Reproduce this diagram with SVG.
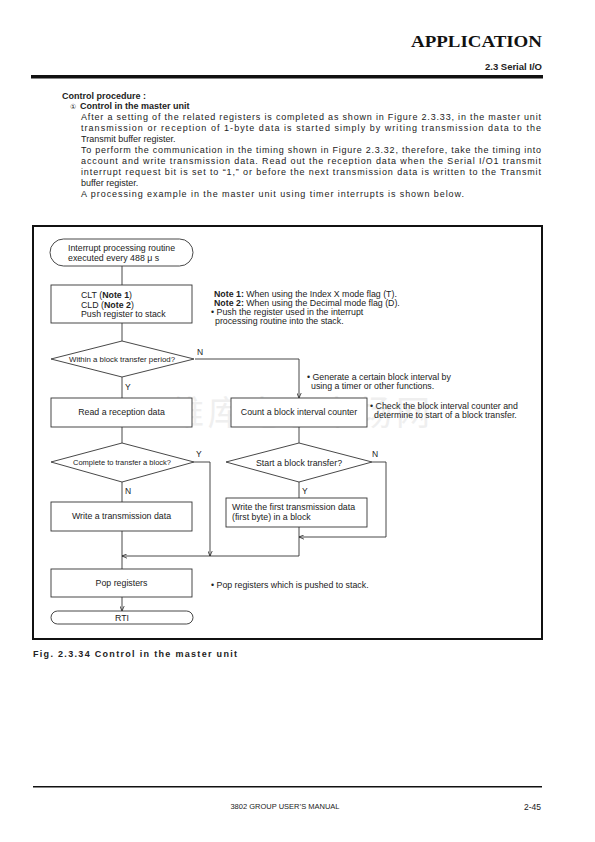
<svg xmlns="http://www.w3.org/2000/svg" width="595" height="842" viewBox="0 0 595 842">
<defs>
<marker id="arr" viewBox="0 0 8 8" refX="8" refY="4" markerWidth="5" markerHeight="5" orient="auto" markerUnits="userSpaceOnUse">
<path d="M0,0.5 L8,4 L0,7.5" fill="none" stroke="#222" stroke-width="1.2"/>
</marker>
<style>
text{font-family:"Liberation Sans",Arial,sans-serif;fill:#222}
.body{font-size:9px}
.b{font-weight:bold}
.fc{font-size:8.8px}
.dia{font-size:7.4px}
.note{font-size:8.8px}
.lbl{font-size:8.5px}
.shape{fill:#fff;stroke:#333;stroke-width:0.9}
.con{fill:none;stroke:#333;stroke-width:0.9}
</style>
</defs>
<rect width="595" height="842" fill="#fff"/>

<!-- header -->
<text x="542" y="47" text-anchor="end" style="font-family:'Liberation Serif','Times New Roman',serif;font-size:17.5px;font-weight:bold;fill:#111" textLength="131" lengthAdjust="spacingAndGlyphs">APPLICATION</text>
<text x="542" y="70" text-anchor="end" class="b" style="font-size:9.5px">2.3 Serial I/O</text>
<rect x="31" y="75" width="512" height="3.5" fill="#111"/>

<!-- body text -->
<text x="62" y="99" class="body b">Control procedure :</text>
<text x="70" y="109" class="body"><tspan style="font-family:'DejaVu Sans',sans-serif;font-size:7px">①</tspan><tspan x="80" class="b">Control in the master unit</tspan></text>
<text x="81" y="120" class="body" textLength="460">After a setting of the related registers is completed as shown in Figure 2.3.33, in the master unit</text>
<text x="81" y="131" class="body" textLength="460">transmission or reception of 1-byte data is started simply by writing transmission data to the</text>
<text x="81" y="142" class="body">Transmit buffer register.</text>
<text x="81" y="153" class="body" textLength="460">To perform the communication in the timing shown in Figure 2.3.32, therefore, take the timing into</text>
<text x="81" y="164" class="body" textLength="460">account and write transmission data. Read out the reception data when the Serial I/O1 transmit</text>
<text x="81" y="175" class="body" textLength="460">interrupt request bit is set to “1,” or before the next transmission data is written to the Transmit</text>
<text x="81" y="186" class="body">buffer register.</text>
<text x="81" y="197" class="body" textLength="383">A processing example in the master unit using timer interrupts is shown below.</text>

<!-- frame -->
<rect x="33" y="226" width="509" height="413" fill="none" stroke="#111" stroke-width="2"/>

<!-- watermark -->
<text x="300" y="425" text-anchor="middle" style="font-family:'Noto Sans CJK SC',sans-serif;font-size:34px;fill:#efefef" textLength="260">维库电子市场网</text>

<!-- connectors -->
<g id="connectors">
<path class="con" d="M122,266 V285"/>
<path class="con" d="M122,323 V341"/>
<path class="con" d="M122,377 V398"/>
<path class="con" d="M122,427 V443"/>
<path class="con" d="M122,482 V502"/>
<path class="con" d="M122,531 V569"/>
<path class="con" d="M122,597 V611" marker-end="url(#arr)"/>
<path class="con" d="M195,359 H299 V398" marker-end="url(#arr)"/>
<path class="con" d="M299,427 V443"/>
<path class="con" d="M299,482 V498"/>
<path class="con" d="M372,462 H386 V537 H299" marker-end="url(#arr)"/>
<path class="con" d="M299,527 V556 H122" marker-end="url(#arr)"/>
<path class="con" d="M194,462 H210 V556" marker-end="url(#arr)"/>
<text x="197" y="355" class="lbl">N</text>
<text x="125" y="390" class="lbl">Y</text>
<text x="196" y="457" class="lbl">Y</text>
<text x="125" y="494" class="lbl">N</text>
<text x="372" y="457" class="lbl">N</text>
<text x="302" y="494" class="lbl">Y</text>
</g>

<!-- nodes -->
<g id="start">
<rect class="shape" x="50" y="239" width="143" height="27" rx="13.5"/>
<text x="68" y="251" class="fc">Interrupt processing routine</text>
<text x="68" y="261" class="fc">executed every 488 μ s</text>
</g>
<g id="push">
<rect class="shape" x="51" y="285" width="141" height="38"/>
<text x="81" y="298" class="fc">CLT (<tspan class="b">Note 1</tspan>)</text>
<text x="81" y="307.5" class="fc">CLD (<tspan class="b">Note 2</tspan>)</text>
<text x="81" y="317" class="fc">Push register to stack</text>
</g>
<g id="dec-period">
<polygon class="shape" points="51,359 122,341 194,359 122,377"/>
<text x="122" y="362" text-anchor="middle" class="dia" textLength="106" lengthAdjust="spacingAndGlyphs">Within a block transfer period?</text>
</g>
<g id="read">
<rect class="shape" x="51" y="398" width="141" height="29"/>
<text x="121.5" y="415" text-anchor="middle" class="fc">Read a reception data</text>
</g>
<g id="dec-complete">
<polygon class="shape" points="51,462 122,443 194,462 122,482"/>
<text x="122" y="465" text-anchor="middle" class="dia" textLength="98" lengthAdjust="spacingAndGlyphs">Complete to transfer a block?</text>
</g>
<g id="write">
<rect class="shape" x="51" y="502" width="141" height="29"/>
<text x="121.5" y="519" text-anchor="middle" class="fc">Write a transmission data</text>
</g>
<g id="count">
<rect class="shape" x="231" y="398" width="136" height="29"/>
<text x="299" y="415" text-anchor="middle" class="fc">Count a block interval counter</text>
</g>
<g id="dec-start">
<polygon class="shape" points="226,462 299,443 372,462 299,482"/>
<text x="299" y="465.5" text-anchor="middle" class="fc">Start a block transfer?</text>
</g>
<g id="write-first">
<rect class="shape" x="226" y="498" width="141" height="29"/>
<text x="232" y="510" class="fc">Write the first transmission data</text>
<text x="232" y="520" class="fc">(first byte) in a block</text>
</g>
<g id="pop">
<rect class="shape" x="51" y="569" width="141" height="28"/>
<text x="121.5" y="586" text-anchor="middle" class="fc">Pop registers</text>
</g>
<g id="rti">
<rect class="shape" x="51" y="611" width="142" height="13" rx="6.5"/>
<text x="122" y="620.5" text-anchor="middle" class="fc">RTI</text>
</g>

<!-- annotations -->
<g id="notes">
<text x="214" y="297" class="note"><tspan class="b">Note 1:</tspan> When using the Index X mode flag (T).</text>
<text x="214" y="306" class="note"><tspan class="b">Note 2:</tspan> When using the Decimal mode flag (D).</text>
<text x="211" y="315" class="note">• Push the register used in the interrupt</text>
<text x="215" y="324" class="note">processing routine into the stack.</text>
<text x="307" y="380" class="note">• Generate a certain block interval by</text>
<text x="311" y="389" class="note">using a timer or other functions.</text>
<text x="370" y="409" class="note">• Check the block interval counter and</text>
<text x="374" y="418" class="note">determine to start of a block transfer.</text>
<text x="211" y="588" class="note">• Pop registers which is pushed to stack.</text>
</g>

<!-- caption -->
<text x="33" y="657" class="b" style="font-size:9px" textLength="204">Fig. 2.3.34 Control in the master unit</text>

<!-- footer -->
<rect x="33" y="786" width="509" height="1.5" fill="#111"/>
<text x="285" y="809" text-anchor="middle" style="font-size:7.5px">3802 GROUP USER’S MANUAL</text>
<text x="541" y="810" text-anchor="end" style="font-size:8.5px">2-45</text>
</svg>
